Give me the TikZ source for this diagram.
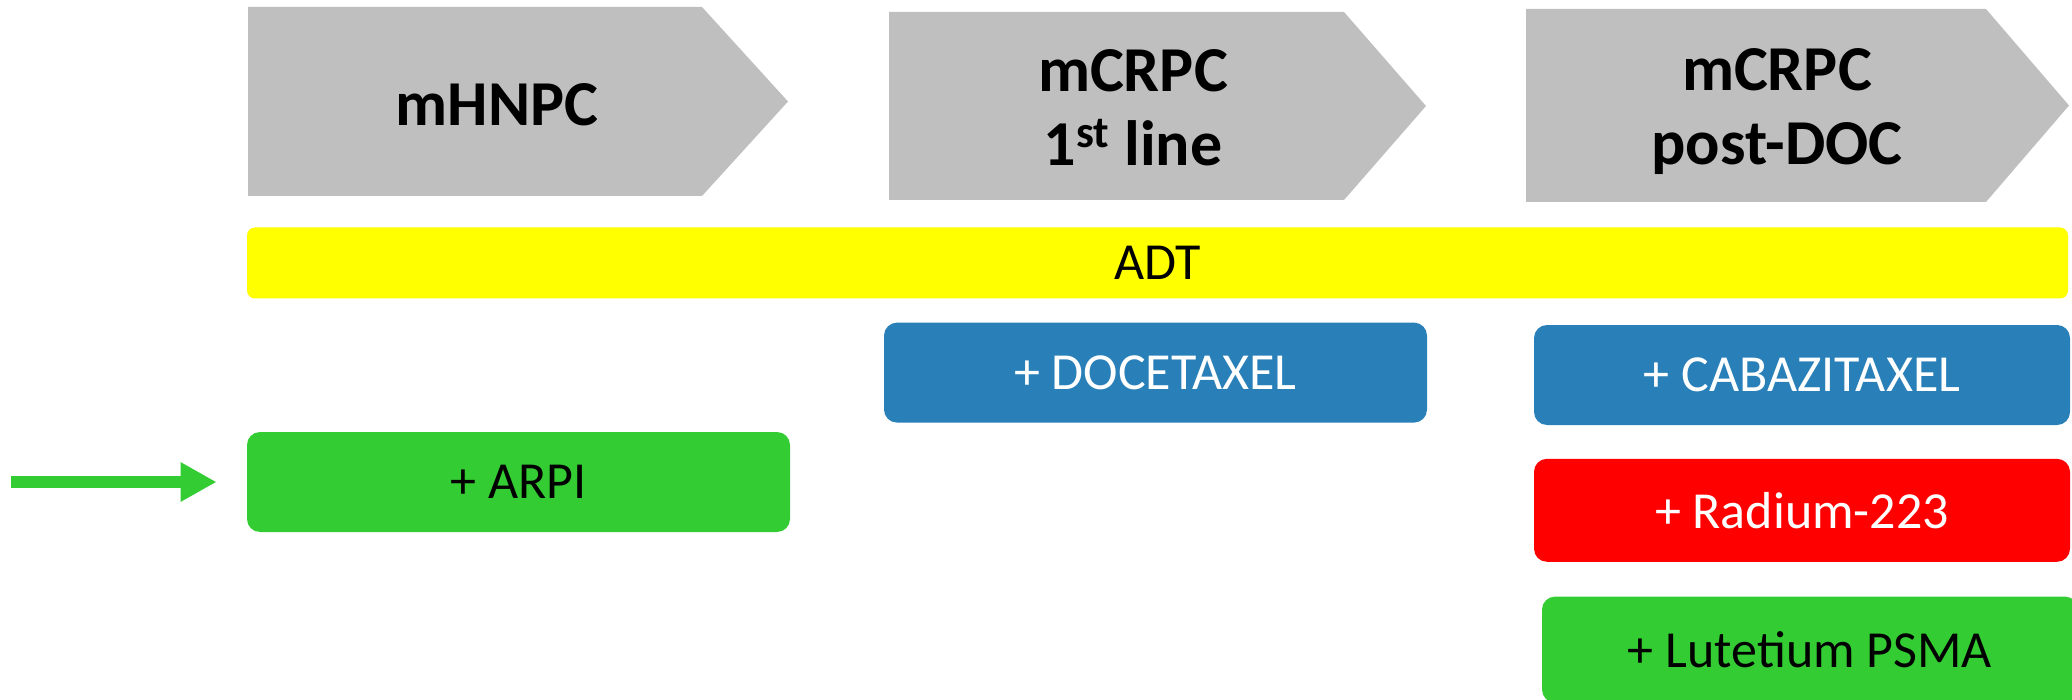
\documentclass[tikz,border=0pt]{standalone}
\usepackage{fontspec}
\setmainfont{Carlito}
\usepackage{tikz}
\usetikzlibrary{arrows.meta,positioning}
\definecolor{phgray}{RGB}{191,191,191}
\definecolor{adtyel}{RGB}{255,255,0}
\definecolor{rxblue}{RGB}{41,128,185}
\definecolor{rxred}{RGB}{255,0,0}
\definecolor{rxgreen}{RGB}{51,204,51}
\tikzset{
  phase/.style={fill=phgray},
  phtxt/.style={
    align=center, inner sep=0pt,
    font=\fontsize{32}{37}\selectfont\bfseries
  },
  rx/.style={
    rounded corners=6.5pt, align=center, inner sep=0pt,
    minimum width=271.5pt, minimum height=50pt,
    font=\fontsize{26}{31}\selectfont
  },
  bkg/.style={rx, fill=adtyel, rounded corners=4pt},
  chemo/.style={rx, fill=rxblue, text=white},
  radio/.style={rx, fill=rxred, text=white},
  novel/.style={rx, fill=rxgreen},
  arr/.style={-{Triangle[length=18pt,width=18.5pt]}, draw=rxgreen, line width=6pt, shorten >=15pt}
}
\begin{document}
\begin{tikzpicture}[x=0.5pt, y=-0.5pt, node distance=16.5pt]
  \useasboundingbox (0,0) rectangle (2072,700);
  % disease stages
  \fill[phase] (248,7) -- (702,7) -- (788,101.5) -- (702,196) -- (248,196) -- cycle;
  \fill[phase] (889,12) -- (1344,12) -- (1426,106) -- (1344,200) -- (889,200) -- cycle;
  \fill[phase] (1526,9) -- (1986,9) -- (2069,105.5) -- (1986,202) -- (1526,202) -- cycle;
  \node[phtxt] (hnpc) at (497,105) {mHNPC};
  \node[phtxt] (first) at (1133,108) {mCRPC\\1\textsuperscript{st} line};
  \node[phtxt] (postdoc) at (1777,112) {mCRPC\\post-DOC};

  % treatments
  \node[bkg, minimum width=910.5pt, minimum height=35.5pt] (adt) at (1157.5,263) {ADT};
  \node[chemo] (doce) at (1155.5,372.6) {+ DOCETAXEL};
  \node[chemo, minimum width=268pt] (caba) at (1802,375) {+ CABAZITAXEL};
  \node[radio, minimum width=268pt, minimum height=51.5pt, below=of caba] (ra) {+ Radium-223};
  \node[novel, minimum width=268pt, minimum height=53pt, below=17pt of ra, xshift=4pt] (lu) {+ Lutetium PSMA};
  \node[novel] (arpi) at (518.5,482) {+ ARPI};
  \coordinate (entry) at (11,482);
  \draw[arr] (entry) -- (arpi.west);
\end{tikzpicture}
\end{document}
